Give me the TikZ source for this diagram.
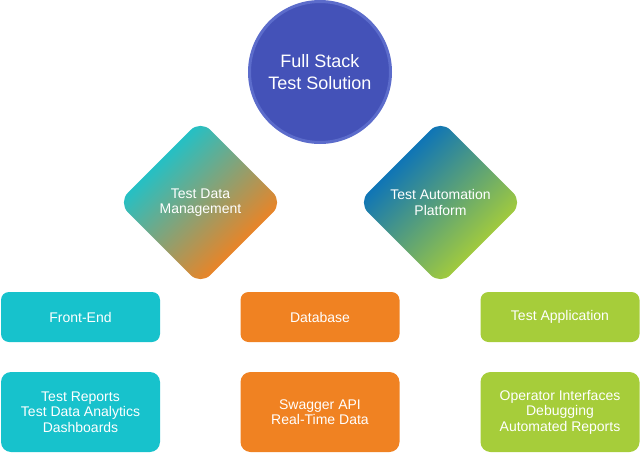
\documentclass[tikz,border=0pt]{standalone}
\usepackage{fontspec}
\setmainfont{Liberation Sans}
\usetikzlibrary{shapes.geometric}
\definecolor{circfill}{HTML}{4452B8}
\definecolor{circedge}{HTML}{5C6CCB}
\definecolor{tealc}{HTML}{1EC2CA}
\definecolor{orangec}{HTML}{F08222}
\definecolor{bluec}{HTML}{0A72BA}
\definecolor{greenc}{HTML}{A6CD3A}
\definecolor{cyanc}{HTML}{17C2CC}
\pgfdeclareverticalshading{tdmshade}{100bp}{color(0bp)=(orangec); color(31bp)=(orangec); color(69bp)=(tealc); color(100bp)=(tealc)}
\pgfdeclareverticalshading{tapshade}{100bp}{color(0bp)=(greenc); color(31bp)=(greenc); color(69bp)=(bluec); color(100bp)=(bluec)}
\begin{document}
\begin{tikzpicture}[x=1pt,y=-1pt,
  txt/.style={text=white,font=\fontsize{14}{15.5}\selectfont,align=center},
  diam/.style={diamond,aspect=1,minimum width=165pt,minimum height=165pt,inner sep=0pt,
    rounded corners=14pt,txt},
  boxa/.style={rectangle,rounded corners=8pt,minimum width=159pt,minimum height=50pt,inner sep=0pt,txt},
  boxb/.style={rectangle,rounded corners=10pt,minimum width=159pt,minimum height=80pt,inner sep=0pt,txt}]
\useasboundingbox (0,0) rectangle (641,453);
\node[circle,fill=circfill,draw=circedge,line width=3pt,minimum size=141pt,inner sep=0pt,
  text=white,font=\fontsize{18}{22}\selectfont,align=center] (top) at (320,72) {Full Stack\\Test Solution};
\node[diam,shading=tdmshade,shading angle=45] (tdm) at (200.5,202.5) {Test Data\\Management};
\node[diam,shading=tapshade,shading angle=45] (tap) at (440.5,202.5) {Test Automation\\Platform};
\node[boxa,fill=cyanc] (fe) at (80.5,317) {Front-End};
\node[boxa,fill=orangec] (db) at (320,317) {Database};
\node[boxa,fill=greenc] (ta) at (560,317) {Test Application};
\node[boxb,fill=cyanc] (fe2) at (80.5,412) {Test Reports\\Test Data Analytics\\Dashboards};
\node[boxb,fill=orangec] (db2) at (320,412) {Swagger API\\Real-Time Data};
\node[boxb,fill=greenc] (ta2) at (560,412) {Operator Interfaces\\Debugging\\Automated Reports};
\end{tikzpicture}
\end{document}
